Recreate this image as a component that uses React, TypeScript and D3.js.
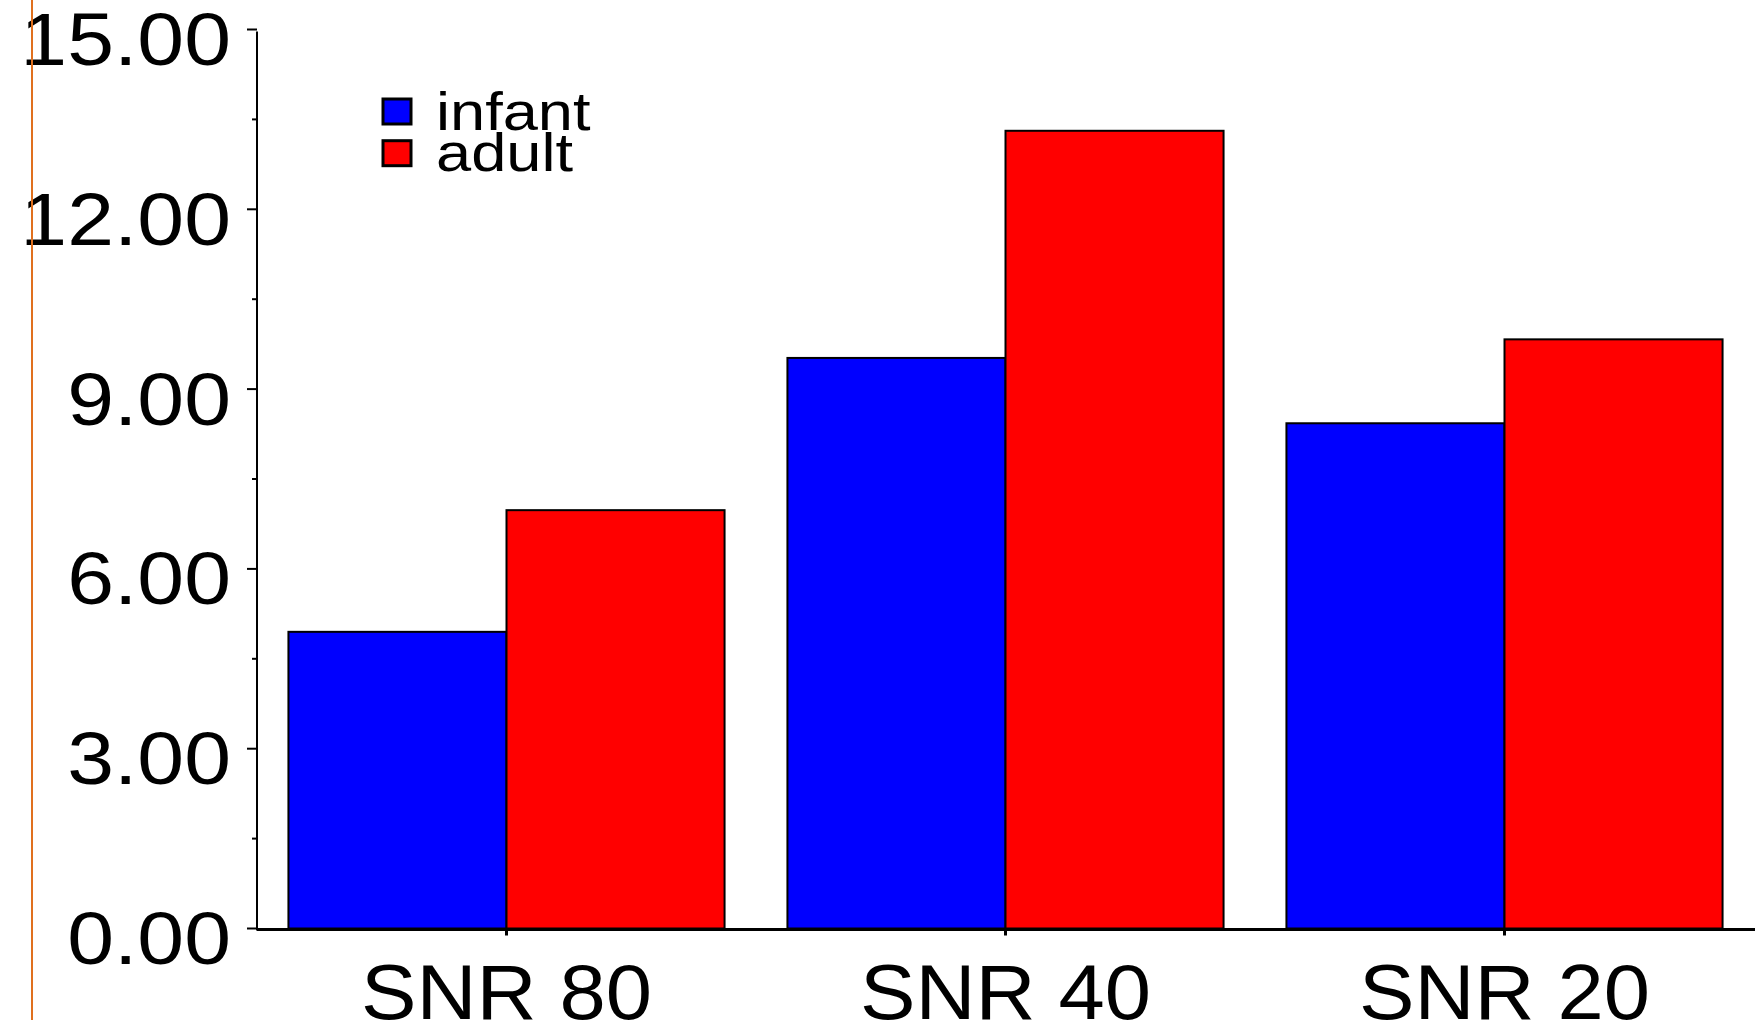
import React from "react";
import * as d3 from "d3";

const categories = ["SNR 80", "SNR 40", "SNR 20"];
const seriesNames = ["infant", "adult"];
const infantValues = [4.95, 9.52, 8.43];
const adultValues = [6.98, 13.31, 9.83];
const yTicks = [0, 3, 6, 9, 12, 15];
const yMinorTicks = [1.5, 4.5, 7.5, 10.5, 13.5];
const colors = ["#0000ff", "#ff0000"];

const W = 1755;
const H = 1020;
const axisX = 257;
const y0 = 928.5;
const y15 = 29.5;

export default function App() {
  const y = d3.scaleLinear().domain([0, 15]).range([y0, y15]);
  const x = d3
    .scaleBand<string>()
    .domain(categories)
    .range([axisX, 1754])
    .paddingInner(0.126)
    .paddingOuter(0.063);
  const inner = d3
    .scaleBand<string>()
    .domain(seriesNames)
    .range([0, x.bandwidth()]);
  const series = [infantValues, adultValues];
  const font = "'Liberation Sans', Arial, sans-serif";

  return (
    <svg
      width={W}
      height={H}
      style={{ position: "absolute", left: 0, top: 0 }}
      xmlns="http://www.w3.org/2000/svg"
    >
      <rect x={0} y={0} width={W} height={H} fill="#fff" />

      {categories.map((c, ci) =>
        series.map((vals, si) => {
          const bx = (x(c) as number) + (inner(seriesNames[si]) as number);
          const by = y(vals[ci]);
          return (
            <rect
              key={c + si}
              x={bx}
              y={by}
              width={inner.bandwidth()}
              height={y0 - by}
              fill={colors[si]}
              stroke="#000"
              strokeWidth={2}
            />
          );
        })
      )}

      {/* y axis */}
      <line x1={axisX} x2={axisX} y1={y(15) + 2} y2={y0 + 2} stroke="#000" strokeWidth={2} />
      {yTicks.map((t) => (
        <g key={t}>
          <line x1={axisX - 10} x2={axisX} y1={y(t)} y2={y(t)} stroke="#000" strokeWidth={2} />
          <text
            transform={`translate(231,${y(t) + 35.5}) scale(1.13,1)`}
            textAnchor="end"
            fontFamily={font}
            fontSize={74.5}
            fill="#000"
          >
            {t.toFixed(2)}
          </text>
        </g>
      ))}
      {yMinorTicks.map((t) => (
        <line key={t} x1={axisX - 5} x2={axisX} y1={y(t)} y2={y(t)} stroke="#000" strokeWidth={2} />
      ))}

      {/* x axis */}
      <line x1={axisX} x2={W} y1={y0 + 1} y2={y0 + 1} stroke="#000" strokeWidth={3} />
      {categories.map((c) => {
        const cx = (x(c) as number) + x.bandwidth() / 2;
        return (
          <g key={c}>
            <line x1={cx} x2={cx} y1={y0} y2={y0 + 7} stroke="#000" strokeWidth={3} />
            <text
              transform={`translate(${cx},1019) scale(1.08,1)`}
              textAnchor="middle"
              fontFamily={font}
              fontSize={77}
              fill="#000"
            >
              {c}
            </text>
          </g>
        );
      })}

      {/* legend */}
      {seriesNames.map((s, i) => (
        <g key={s}>
          <rect
            x={383}
            y={99 + i * 41.7}
            width={28}
            height={25}
            fill={colors[i]}
            stroke="#000"
            strokeWidth={3}
          />
          <text
            transform={`translate(436,${130 + i * 40.7}) scale(1.17,1)`}
            fontFamily={font}
            fontSize={54}
            fill="#000"
          >
            {s}
          </text>
        </g>
      ))}

      <line x1={32} x2={32} y1={0} y2={H} stroke="#e0701e" strokeWidth={2} />
    </svg>
  );
}
